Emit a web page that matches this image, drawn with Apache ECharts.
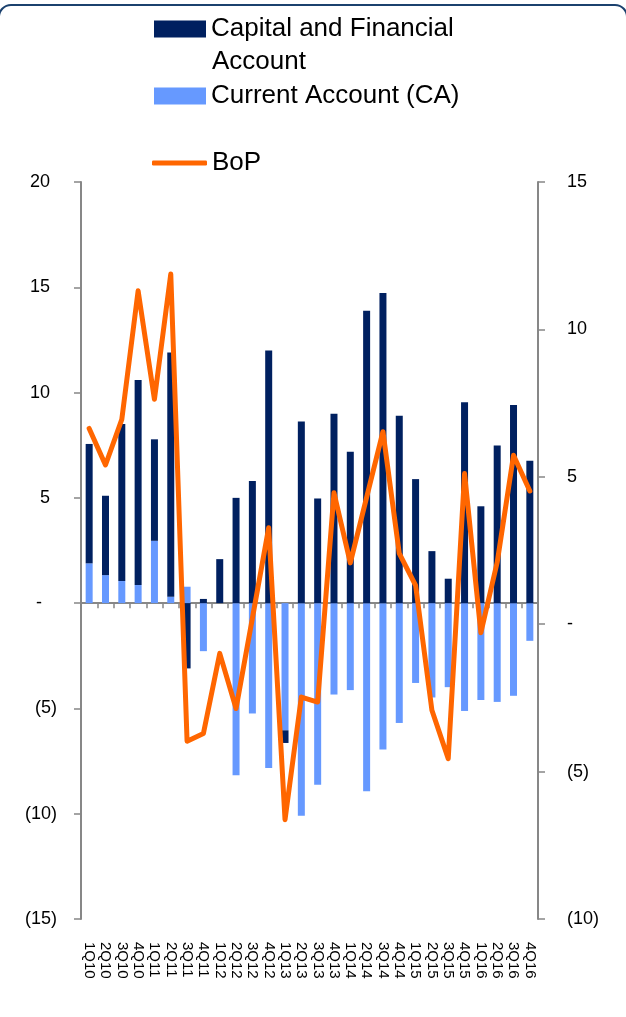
<!DOCTYPE html>
<html>
<head>
<meta charset="utf-8">
<script src="https://cdn.jsdelivr.net/npm/echarts@6/dist/echarts.min.js"></script>
<style>
html,body{margin:0;padding:0;background:#fff;}
#chart{width:626px;height:1017px;}
</style>
</head>
<body>
<div id="chart"></div>
<script>
const categories = ['1Q10','2Q10','3Q10','4Q10','1Q11','2Q11','3Q11','4Q11','1Q12','2Q12','3Q12','4Q12','1Q13','2Q13','3Q13','4Q13','1Q14','2Q14','3Q14','4Q14','1Q15','2Q15','3Q15','4Q15','1Q16','2Q16','3Q16','4Q16'];
const currentAccount = [1.89, 1.33, 1.05, 0.86, 2.96, 0.30, 0.78, -2.28, 0, -8.17, -5.24, -7.83, -6.04, -10.1, -8.63, -4.34, -4.13, -8.93, -6.95, -5.69, -3.79, -4.48, -3.99, -5.12, -4.6, -4.69, -4.4, -1.79];
const capitalFinancial = [5.67, 3.77, 7.46, 9.74, 4.82, 11.6, -3.1, 0.2, 2.09, 5.0, 5.8, 12.0, -0.6, 8.63, 4.97, 9.0, 7.19, 13.88, 14.73, 8.9, 5.89, 2.47, 1.16, 9.54, 4.6, 7.49, 9.41, 6.76];
const bop = [6.64, 5.40, 6.95, 11.31, 7.63, 11.88, -3.97, -3.71, -0.99, -2.86, 0.2, 3.27, -6.63, -2.47, -2.64, 4.46, 2.08, 4.3, 6.53, 2.40, 1.32, -2.92, -4.56, 5.11, -0.29, 2.1, 5.73, 4.52];
const leftTicks = {min: -15, max: 20, interval: 5};
const rightTicks = {min: -10, max: 15, interval: 5};

const FONT = 'Liberation Sans';
function fmt(v) {
  if (v === 0) return '{z|-}';
  if (v < 0) return '{n|(' + Math.abs(v) + ')}';
  return '{p|' + v + '}';
}
const chart = echarts.init(document.getElementById('chart'));
const axisGrey = '#878787';
chart.setOption({
  animation: false,
  textStyle: {fontFamily: FONT},
  graphic: [
    {type: 'rect', shape: {x: -1, y: 5, width: 628, height: 1100, r: 12}, style: {fill: 'none', stroke: '#1B416E', lineWidth: 2}, silent: true},
    {type: 'text', left: 212, top: 49, style: {text: 'Account', font: '26px "Liberation Sans"', fill: '#000'}}
  ],
  legend: [
    {data: [{name: 'Capital and Financial Account', icon: 'rect'}], left: 154, top: 16, padding: 0, itemWidth: 52, itemHeight: 17,
     formatter: function(){ return 'Capital and Financial'; },
     textStyle: {fontSize: 26, color: '#000', fontFamily: FONT}},
    {data: [{name: 'Current Account (CA)', icon: 'rect'}], left: 154, top: 83, padding: 0, itemWidth: 52, itemHeight: 17,
     textStyle: {fontSize: 26, color: '#000', fontFamily: FONT}},
    {data: [{name: 'BoP', icon: 'roundRect'}], left: 152, top: 150, padding: 0, itemWidth: 55, itemHeight: 5,
     textStyle: {fontSize: 26, color: '#000', fontFamily: FONT}}
  ],
  grid: {left: 81, right: 88, top: 182, bottom: 98},
  xAxis: [
    {type: 'category', data: categories, position: 'bottom',
     axisLine: {show: false, onZero: false}, axisTick: {show: false},
     axisLabel: {rotate: -90, interval: 0, margin: 23, fontSize: 15, color: '#000', fontFamily: FONT}},
    {type: 'category', data: categories, position: 'bottom',
     axisLine: {show: true, onZero: true, lineStyle: {color: axisGrey, width: 2}},
     axisTick: {show: true, interval: 0, length: 5, lineStyle: {color: axisGrey, width: 1.5}},
     axisLabel: {show: false, interval: 0}}
  ],
  yAxis: [
    {type: 'value', position: 'left', min: leftTicks.min, max: leftTicks.max, interval: leftTicks.interval,
     splitLine: {show: false},
     axisLine: {show: true, onZero: false, lineStyle: {color: axisGrey, width: 2}},
     axisTick: {show: true, length: 7, lineStyle: {color: axisGrey, width: 1.5}},
     axisLabel: {margin: 24, fontSize: 18, color: '#000', fontFamily: FONT,
       formatter: fmt,
       rich: {p: {fontSize: 18, padding: [0, 7, 0, 0], fontFamily: FONT}, n: {fontSize: 18, fontFamily: FONT}, z: {fontSize: 18, padding: [0, 15, 0, 0], fontFamily: FONT}}}},
    {type: 'value', position: 'right', min: rightTicks.min, max: rightTicks.max, interval: rightTicks.interval,
     splitLine: {show: false},
     axisLine: {show: true, onZero: false, lineStyle: {color: axisGrey, width: 2}},
     axisTick: {show: true, length: 7, lineStyle: {color: axisGrey, width: 1.5}},
     axisLabel: {margin: 29, fontSize: 18, color: '#000', fontFamily: FONT,
       formatter: fmt,
       rich: {p: {fontSize: 18, fontFamily: FONT}, n: {fontSize: 18, fontFamily: FONT}, z: {fontSize: 18, fontFamily: FONT}}}}
  ],
  series: [
    {name: 'Current Account (CA)', type: 'bar', stack: 'bop', data: currentAccount, barWidth: 7,
     xAxisIndex: 0, yAxisIndex: 0, itemStyle: {color: '#6699FF'}},
    {name: 'Capital and Financial Account', type: 'bar', stack: 'bop', data: capitalFinancial, barWidth: 7,
     xAxisIndex: 0, yAxisIndex: 0, itemStyle: {color: '#002060'}},
    {name: 'BoP', type: 'line', data: bop, xAxisIndex: 0, yAxisIndex: 1, symbol: 'none',
     lineStyle: {color: '#FF6600', width: 5, join: 'round', cap: 'round'}, itemStyle: {color: '#FF6600'}, z: 5}
  ]
});
</script>
</body>
</html>
